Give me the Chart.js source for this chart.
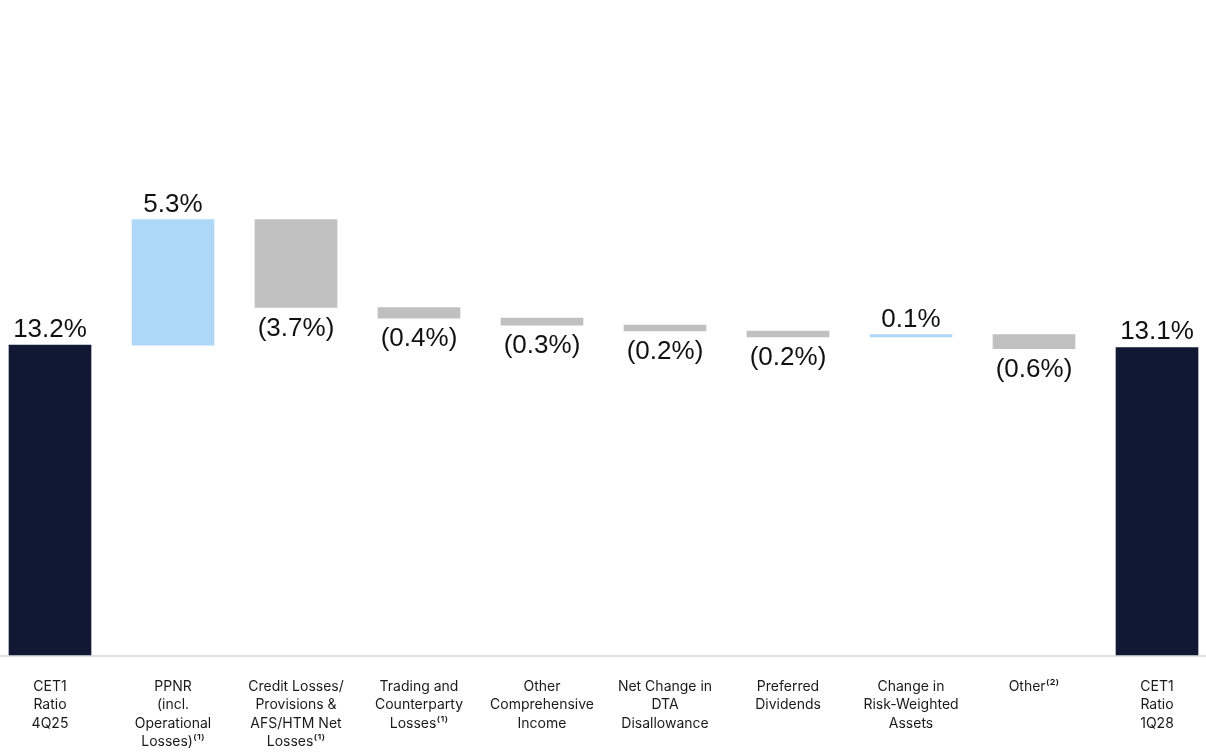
<!DOCTYPE html>
<html>
<head>
<meta charset="utf-8">
<script src="https://cdn.jsdelivr.net/npm/chart.js@4/dist/chart.umd.min.js"></script>
<style>
  html, body { margin: 0; padding: 0; background: #fff; }
  #wrap { width: 1206px; height: 755px; position: relative; }
</style>
</head>
<body>
<div id="wrap"><canvas id="chartWaterfall"></canvas></div>
<script>
/* Données (CET1, waterfall) */
const categories = [
    ['CET1', 'Ratio', '4Q25'],
    ['PPNR', '(incl.', 'Operational', 'Losses)⁽¹⁾'],
    ['Credit Losses/', 'Provisions &', 'AFS/HTM Net', 'Losses⁽¹⁾'],
    ['Trading and', 'Counterparty', 'Losses⁽¹⁾'],
    ['Other', 'Comprehensive', 'Income'],
    ['Net Change in', 'DTA', 'Disallowance'],
    ['Preferred', 'Dividends'],
    ['Change in', 'Risk-Weighted', 'Assets'],
    ['Other⁽²⁾'],
    ['CET1', 'Ratio', '1Q28']
];
// steps (totals are absolute levels)
const stepValues = [13.2, 5.35, -3.75, -0.45, -0.3, -0.25, -0.25, 0.1, -0.6, 13.1];
const isTotal    = [true, false, false, false, false, false, false, false, false, true];
const valueLabels = ['13.2%', '5.3%', '(3.7%)', '(0.4%)', '(0.3%)', '(0.2%)', '(0.2%)', '0.1%', '(0.6%)', '13.1%'];

const NAVY = '#111833', BLUE = '#add8f8', GRAY = '#c0c0c0';

/* ranges flottants [début, fin] */
let running = 0;
const ranges = stepValues.map((v, i) => {
    if (isTotal[i]) { running = v; return [0, v]; }
    const start = running;
    running = running + v;
    return [start, running];
});
const colors = stepValues.map((v, i) => isTotal[i] ? NAVY : (v >= 0 ? BLUE : GRAY));

/* ligne de base sur toute la largeur */
const baselinePlugin = {
    id: 'baseline',
    beforeDatasetsDraw(chart) {
        const ctx = chart.ctx;
        const y = chart.scales.y.getPixelForValue(0);
        ctx.save();
        ctx.strokeStyle = '#e0e0e0';
        ctx.lineWidth = 2;
        ctx.beginPath();
        ctx.moveTo(0, y + 1);
        ctx.lineTo(chart.width, y + 1);
        ctx.stroke();
        ctx.restore();
    }
};

/* étiquettes de valeur */
const valueLabelPlugin = {
    id: 'valueLabels',
    afterDatasetsDraw(chart) {
        const ctx = chart.ctx;
        const meta = chart.getDatasetMeta(0);
        ctx.save();
        ctx.font = '26px "Liberation Sans", Arial, sans-serif';
        ctx.fillStyle = '#111111';
        ctx.textAlign = 'center';
        ctx.textBaseline = 'alphabetic';
        meta.data.forEach((bar, i) => {
            const top = Math.min(bar.y, bar.base);
            const bottom = Math.max(bar.y, bar.base);
            if (isTotal[i] || stepValues[i] >= 0) {
                ctx.fillText(valueLabels[i], bar.x, top - 8);
            } else {
                ctx.fillText(valueLabels[i], bar.x, bottom + 28);
            }
        });
        ctx.restore();
    }
};

new Chart(document.getElementById('chartWaterfall'), {
    type: 'bar',
    data: {
        labels: categories,
        datasets: [{
            data: ranges,
            backgroundColor: colors,
            borderWidth: 0,
            borderSkipped: false,
            barThickness: 82,
            clip: false
        }]
    },
    options: {
        responsive: true,
        maintainAspectRatio: false,
        animation: false,
        layout: { padding: { left: 50, right: 49, top: 0, bottom: 0 } },
        plugins: {
            legend: { display: false },
            tooltip: { enabled: false }
        },
        scales: {
            x: {
                offset: false,
                grid: { display: false, drawTicks: false },
                border: { display: false },
                afterFit: scale => { scale.height = 100; },
                ticks: {
                    autoSkip: false,
                    maxRotation: 0,
                    padding: 22,
                    color: '#1a1a1a',
                    font: { family: 'Inter, "Noto Sans", sans-serif', size: 14, lineHeight: 1.33 }
                }
            },
            y: {
                display: false,
                min: 0,
                max: 27.9
            }
        }
    },
    plugins: [baselinePlugin, valueLabelPlugin]
});
</script>
</body>
</html>
